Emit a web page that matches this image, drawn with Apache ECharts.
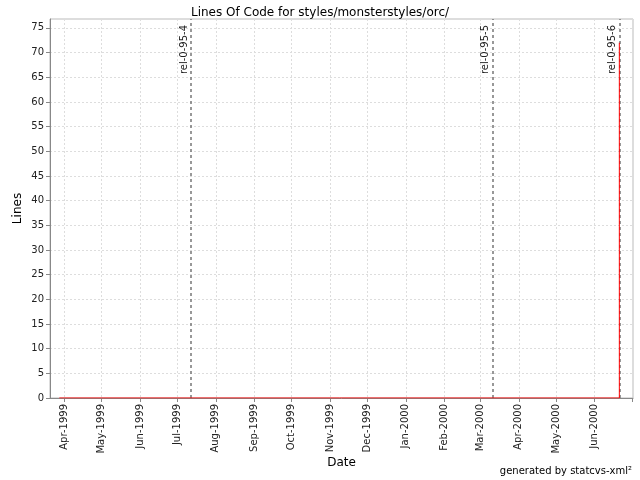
<!DOCTYPE html>
<html><head><meta charset="utf-8">
<script src="https://cdn.jsdelivr.net/npm/echarts@6/dist/echarts.min.js"></script>
<style>html,body{margin:0;padding:0;background:#fff}#c{width:640px;height:480px}</style>
</head><body><div id="c"></div>
<script>
const titleText = 'Lines Of Code for styles/monsterstyles/orc/';
const footerText = 'generated by statcvs-xml²';
const monthNames = ['Jan','Feb','Mar','Apr','May','Jun','Jul','Aug','Sep','Oct','Nov','Dec'];
const locDates = ['1999-03-28', '2000-06-21', '2000-06-21'];
const locValues = [0, 0, 72];
const tagNames = ['rel-0-95-4', 'rel-0-95-5', 'rel-0-95-6'];
const tagDates = ['1999-07-12', '2000-03-11', '2000-06-21'];
const xMin = '1999-03-20T12:00:00';
const xMax = '2000-07-02T00:00:00';
const yTicks = {min: 0, max: 76.8, interval: 5};

const font = 'DejaVu Sans';
const maxTime = new Date(xMax).getTime();
const chart = echarts.init(document.getElementById('c'), null, {renderer: 'canvas'});
chart.setOption({
  animation: false,
  title: {text: titleText, left: 'center', top: 2, textStyle: {fontFamily: font, fontSize: 12, fontWeight: 'normal', color: '#000'}},
  graphic: [{type: 'text', right: 8, bottom: 4, style: {text: footerText, font: '10px ' + font, fill: '#000'}}],
  grid: {left: 50, right: 7, top: 19, bottom: 82, show: true, borderColor: '#bbb', borderWidth: 1},
  xAxis: {
    type: 'time', min: xMin, max: xMax, splitNumber: 15,
    minInterval: 28 * 86400000, maxInterval: 31 * 86400000,
    name: 'Date', nameLocation: 'middle', nameGap: 59, nameMoveOverlap: false,
    nameTextStyle: {fontFamily: font, fontSize: 12, color: '#000'},
    axisLine: {lineStyle: {color: '#888'}},
    axisTick: {show: true, length: 4, lineStyle: {color: '#888'}},
    axisLabel: {rotate: 90, fontFamily: font, fontSize: 10, color: '#222', margin: 6,
      formatter: function (v) { if (v >= maxTime - 86400000) return ''; const d = new Date(v); return monthNames[d.getMonth()] + '-' + d.getFullYear(); }},
    splitLine: {show: true, lineStyle: {color: '#ddd', type: [2, 2]}}
  },
  yAxis: {
    type: 'value', min: yTicks.min, max: yTicks.max, interval: yTicks.interval,
    name: 'Lines', nameLocation: 'middle', nameGap: 26, nameMoveOverlap: false,
    nameTextStyle: {fontFamily: font, fontSize: 12, color: '#000'},
    axisLine: {show: true, lineStyle: {color: '#888'}},
    axisTick: {show: true, length: 4, lineStyle: {color: '#888'}},
    axisLabel: {fontFamily: font, fontSize: 10, color: '#222', margin: 6, showMaxLabel: false},
    splitLine: {show: true, lineStyle: {color: '#ddd', type: [2, 2]}}
  },
  series: [{
    type: 'line', symbol: 'none', z: 5,
    data: locDates.map((d, i) => [d, locValues[i]]),
    lineStyle: {color: '#ff0000', width: 1},
    markLine: {
      symbol: 'none', silent: true,
      lineStyle: {color: '#777', type: [3, 3], width: 1.5},
      label: {show: true, position: 'insideEndTop', formatter: '{b}', fontFamily: font, fontSize: 10, color: '#222', distance: 2, padding: [0, 4, 0, 0]},
      data: tagDates.map((d, i) => ({name: tagNames[i], xAxis: d}))
    }
  }]
});
</script></body></html>
